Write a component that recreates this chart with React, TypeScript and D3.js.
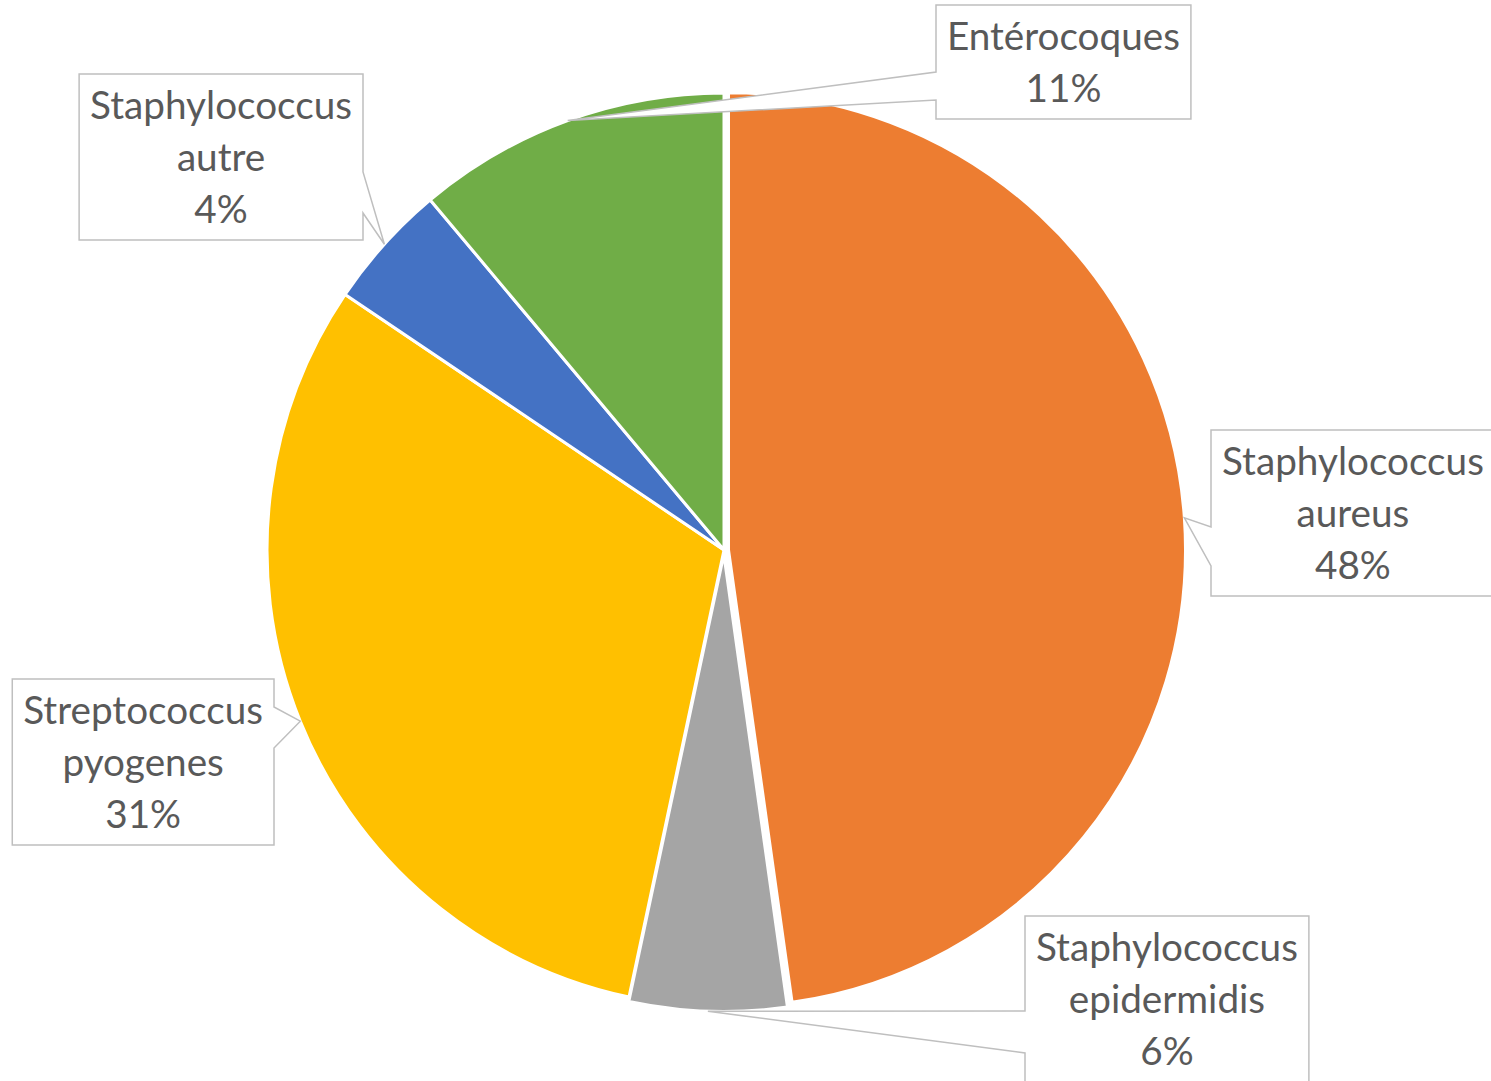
import React, { useMemo } from "react";
import * as d3 from "d3";

// ---- data ----
const categories = [
  "Staphylococcus aureus",
  "Staphylococcus epidermidis",
  "Streptococcus pyogenes",
  "Staphylococcus autre",
  "Entérocoques",
];
const labelLines = [
  ["Staphylococcus", "aureus"],
  ["Staphylococcus", "epidermidis"],
  ["Streptococcus", "pyogenes"],
  ["Staphylococcus", "autre"],
  ["Entérocoques"],
];
const counts = [43, 5, 28, 4, 10];
const colors = ["#ED7D31", "#A5A5A5", "#FFC000", "#4472C4", "#70AD47"];
const exploded = [true, true, false, false, false];

// ---- layout ----
const W = 1491;
const H = 1081;
const CX = 724;
const CY = 550;
const R = 457;
const EXPLODE = 4.5;
const LINE_H = 52;
const FONT = "Lato";
const TARGET_W = 262; // width of "Staphylococcus"
// box: anchor side ("L" = left edge fixed, "R" = right edge fixed), anchor x, top y, notch offsets
const boxes = [
  { side: "L", ax: 1211, top: 430, n1: 97, n2: 136 },
  { side: "L", ax: 1025, top: 916, n1: 95, n2: 137 },
  { side: "R", ax: 274, top: 679, n1: 28, n2: 69 },
  { side: "R", ax: 363, top: 74, n1: 98, n2: 139 },
  { side: "L", ax: 936, top: 5, n1: 67, n2: 95 },
];

function measurer() {
  const c = document.createElement("canvas");
  const ctx = c.getContext("2d")!;
  return (t: string, size: number) => {
    ctx.font = `${size}px ${FONT}`;
    return ctx.measureText(t).width;
  };
}

export default function App() {
  const { fontSize, widths } = useMemo(() => {
    const m = measurer();
    const base = m("Staphylococcus", 100);
    const fs = (100 * TARGET_W) / base;
    const ws = labelLines.map((lines, i) => {
      const pct = Math.round((counts[i] / d3.sum(counts)) * 100) + "%";
      return Math.max(...[...lines, pct].map((t) => m(t, fs)));
    });
    return { fontSize: fs, widths: ws };
  }, []);

  const total = d3.sum(counts);
  const pie = d3
    .pie<number>()
    .sort(null)
    .value((d) => d)
    .startAngle(0)
    .endAngle(2 * Math.PI);
  const arcs = pie(counts);
  const arc = d3.arc<d3.PieArcDatum<number>>().innerRadius(0).outerRadius(R);

  const slices = arcs.map((a, i) => {
    const mid = (a.startAngle + a.endAngle) / 2;
    const e = exploded[i] ? EXPLODE : 0;
    const ox = CX + Math.sin(mid) * e;
    const oy = CY - Math.cos(mid) * e;
    const tip = [ox + Math.sin(mid) * R, oy - Math.cos(mid) * R];
    return { a, ox, oy, tip, mid };
  });

  return (
    <svg
      width={W}
      height={H}
      style={{ position: "absolute", left: 0, top: 0, background: "#fff" }}
    >
      <rect x={0} y={0} width={W} height={H} fill="#fff" />
      {slices.map((s, i) => (
        <path
          key={categories[i]}
          d={arc(s.a) || ""}
          transform={`translate(${s.ox},${s.oy})`}
          fill={colors[i]}
          stroke="#fff"
          strokeWidth={3}
          strokeLinejoin="round"
        />
      ))}
      {slices.map((s, i) => {
        const b = boxes[i];
        const lines = [
          ...labelLines[i],
          Math.round((counts[i] / total) * 100) + "%",
        ];
        const w = widths[i] + 22;
        const h = lines.length * LINE_H + 10;
        const x = b.side === "L" ? b.ax : b.ax - w;
        const y = b.top;
        const [tx, ty] = s.tip;
        let d: string;
        if (b.side === "L") {
          d = `M${x},${y}H${x + w}V${y + h}H${x}V${y + b.n2}L${tx},${ty}L${x},${y + b.n1}Z`;
        } else {
          d = `M${x},${y}H${x + w}V${y + b.n1}L${tx},${ty}L${x + w},${y + b.n2}V${y + h}H${x}Z`;
        }
        const cx = x + w / 2;
        return (
          <g key={"lab" + i}>
            <path
              d={d}
              fill="#fff"
              stroke="#BFBFBF"
              strokeWidth={1.5}
              strokeLinejoin="miter"
            />
            {lines.map((t, j) => (
              <text
                key={j}
                x={cx}
                y={y + 45 + j * LINE_H}
                textAnchor="middle"
                fontFamily={FONT}
                fontSize={fontSize}
                fill="#595959"
              >
                {t}
              </text>
            ))}
          </g>
        );
      })}
    </svg>
  );
}
